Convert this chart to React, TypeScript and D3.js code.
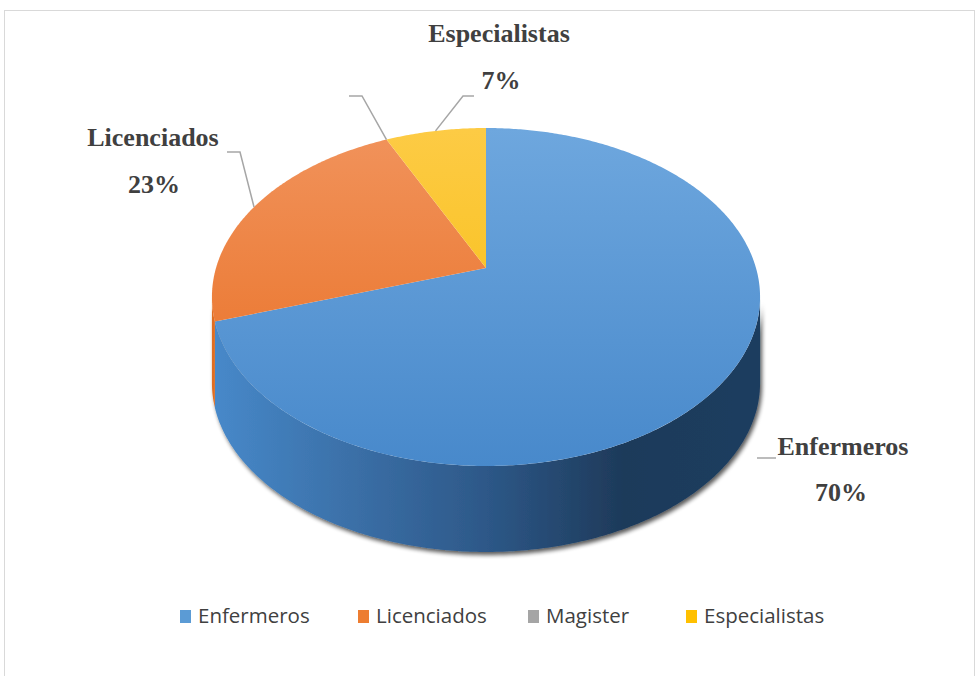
import React from "react";
import * as d3 from "d3";

const categories = ["Enfermeros", "Licenciados", "Magister", "Especialistas"];
const values = [70, 23, 0, 7];
const percentLabels = ["70%", "23%", "0%", "7%"];

const W = 976;
const H = 676;
const cx = 486;
const cy = 268;
const A = 270;
const B = 164;
const K = 0.1716;
const DEPTH = 86;

const topColors = [
  ["#6ea7de", "#4889cb"],
  ["#f1935c", "#e86c1e"],
  ["#b0b0b0", "#999999"],
  ["#fdcb45", "#f5bb06"],
];
const legendColors = ["#5b9bd5", "#ed7d31", "#a5a5a5", "#ffc000"];

function proj(t: number, dy = 0): [number, number] {
  const u = Math.sin(t);
  const v = -Math.cos(t);
  const w = 1 - K * v;
  return [cx + (A * u) / w, cy + (B * v) / w + dy];
}

function arcPts(a: number, b: number, dy = 0): [number, number][] {
  const n = Math.max(2, Math.ceil(Math.abs(b - a) / 0.01));
  const pts: [number, number][] = [];
  for (let i = 0; i <= n; i++) pts.push(proj(a + ((b - a) * i) / n, dy));
  return pts;
}

const line = d3.line();

export default function App() {
  const pie = d3.pie<number>().sort(null).value((d) => d)(values);
  const thR = Math.acos(-K);
  const thL = 2 * Math.PI - Math.acos(-K);

  const sides: { d: string; i: number }[] = [];
  pie.forEach((p, i) => {
    const a = Math.max(p.startAngle, thR);
    const b = Math.min(p.endAngle, thL);
    if (b > a) {
      const pts = [...arcPts(a, b, 0), ...arcPts(b, a, DEPTH)];
      sides.push({ d: line(pts)! + "Z", i });
    }
  });

  const tops = pie
    .map((p, i) => {
      if (p.endAngle - p.startAngle <= 0) return null;
      const pts: [number, number][] = [[cx, cy], ...arcPts(p.startAngle, p.endAngle, 0)];
      return { d: line(pts)! + "Z", i };
    })
    .filter(Boolean) as { d: string; i: number }[];

  const mid = (i: number) => (pie[i].startAngle + pie[i].endAngle) / 2;

  const labelLayout: Record<number, { nx: number; ny: number; px: number; py: number; elbow?: [number, number][]; seg?: [number, number][] }> = {
    0: { nx: 843, ny: 455, px: 841, py: 501, seg: [[757, 458], [776, 458]] },
    1: { nx: 153, ny: 146, px: 154, py: 193, elbow: [[240, 152], [227, 152]] },
    2: { nx: 0, ny: 0, px: 0, py: 0, elbow: [[362, 96], [349, 96]] },
    3: { nx: 499, ny: 42, px: 501, py: 89, elbow: [[463, 96], [474, 96]] },
  };

  const legendLayout = [
    { sx: 180, tx: 198 },
    { sx: 358, tx: 376 },
    { sx: 528, tx: 546 },
    { sx: 686, tx: 704 },
  ];

  return (
    <svg width={W} height={H} style={{ position: "absolute", left: 0, top: 0, background: "#fff" }}>
      <defs>
        <linearGradient id="sideBlue" gradientUnits="userSpaceOnUse" x1={212} y1={0} x2={760} y2={0}>
          <stop offset="0" stopColor="#4789ca" />
          <stop offset="0.25" stopColor="#3b70a8" />
          <stop offset="0.5" stopColor="#2d5888" />
          <stop offset="0.75" stopColor="#1e3a5a" />
          <stop offset="1" stopColor="#1f3d5f" />
        </linearGradient>
        <linearGradient id="sideOrange" gradientUnits="userSpaceOnUse" x1={212} y1={0} x2={760} y2={0}>
          <stop offset="0" stopColor="#e06d20" />
          <stop offset="1" stopColor="#8a4010" />
        </linearGradient>
        {topColors.map((c, i) => (
          <linearGradient key={i} id={`top${i}`} gradientUnits="userSpaceOnUse" x1={0} y1={128} x2={0} y2={466}>
            <stop offset="0" stopColor={c[0]} />
            <stop offset="1" stopColor={c[1]} />
          </linearGradient>
        ))}
        <filter id="shadow" x="-10%" y="-10%" width="120%" height="130%">
          <feGaussianBlur in="SourceAlpha" stdDeviation="2" />
          <feOffset dx="1.5" dy="3" result="b" />
          <feComponentTransfer>
            <feFuncA type="linear" slope="0.65" />
          </feComponentTransfer>
          <feMerge>
            <feMergeNode />
            <feMergeNode in="SourceGraphic" />
          </feMerge>
        </filter>
      </defs>
      <rect x={4.5} y={10.5} width={970} height={670} fill="#fff" stroke="#d9d9d9" strokeWidth={1} />

      <g filter="url(#shadow)">
        {sides.map((s) => (
          <path key={s.i} d={s.d} fill={s.i === 0 ? "url(#sideBlue)" : s.i === 1 ? "url(#sideOrange)" : "#b88c00"} />
        ))}
      </g>
      <g>
        {tops.map((t) => (
          <path key={t.i} d={t.d} fill={`url(#top${t.i})`} />
        ))}
      </g>

      <g fill="none" stroke="#a6a6a6" strokeWidth={1.5}>
        {[1, 2, 3].map((i) => {
          const start = proj(mid(i));
          const pts: [number, number][] = [start, ...(labelLayout[i].elbow || [])];
          return <path key={i} d={line(pts)!} />;
        })}
        <path d={line(labelLayout[0].seg!)!} />
      </g>

      <g fontFamily="'Liberation Serif', 'Times New Roman', serif" fontWeight="bold" fontSize={26} fill="#404040" textAnchor="middle">
        {[0, 1, 3].map((i) => (
          <g key={i}>
            <text x={labelLayout[i].nx} y={labelLayout[i].ny}>{categories[i]}</text>
            <text x={labelLayout[i].px} y={labelLayout[i].py}>{percentLabels[i]}</text>
          </g>
        ))}
      </g>

      <g fontFamily="'Open Sans', sans-serif" fontSize={20.5} fill="#404040">
        {categories.map((c, i) => (
          <g key={c}>
            <rect x={legendLayout[i].sx} y={610} width={11} height={13} fill={legendColors[i]} />
            <text x={legendLayout[i].tx} y={623}>{c}</text>
          </g>
        ))}
      </g>
    </svg>
  );
}
